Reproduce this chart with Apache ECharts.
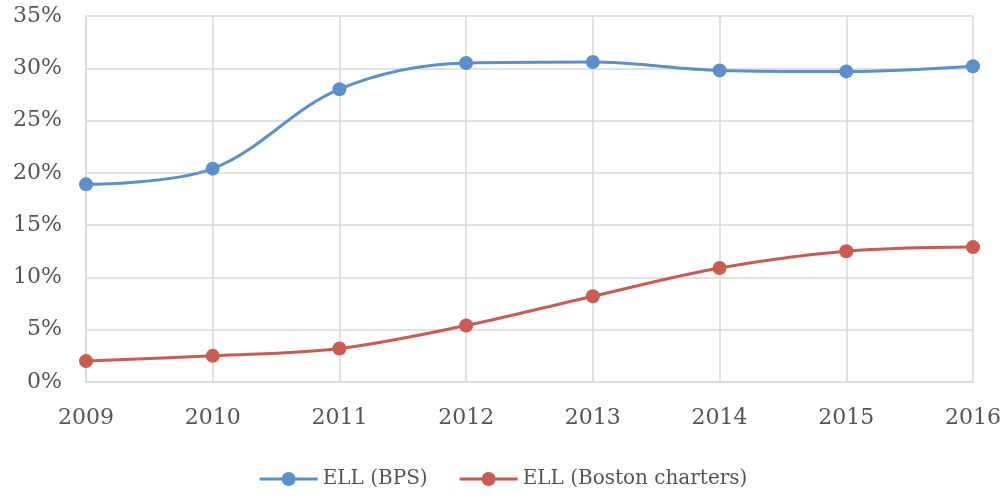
<!DOCTYPE html>
<html>
<head>
<meta charset="utf-8">
<script src="https://cdn.jsdelivr.net/npm/echarts@6/dist/echarts.min.js"></script>
<style>
  html, body { margin: 0; padding: 0; background: #fff; }
  #chart { width: 1007px; height: 499px; }
</style>
</head>
<body>
<div id="chart"></div>
<script>
const years = ['2009', '2010', '2011', '2012', '2013', '2014', '2015', '2016']
const ellBps = [18.9, 20.4, 28.0, 30.5, 30.6, 29.8, 29.7, 30.2]
const ellCharters = [2.0, 2.5, 3.2, 5.4, 8.2, 10.9, 12.5, 12.9]

const font = 'DejaVu Serif'
const textColor = '#555555'
// line with a dot in the middle, like the legend keys of the original
const legendIcon = 'path://M0,5.5 H58 V8.5 H0 Z M29,0 A7,7 0 1 1 29,14 A7,7 0 1 1 29,0 Z'

const chart = echarts.init(document.getElementById('chart'))

function lineSeries(name, data, color) {
  return {
    name: name,
    type: 'line',
    data: data,
    smooth: 0.35,
    symbol: 'circle',
    symbolSize: 14,
    lineStyle: { width: 3, color: color },
    itemStyle: { color: color },
    animation: false
  }
}

chart.setOption({
  grid: { left: 86, right: 34, top: 16, bottom: 117 },
  legend: {
    bottom: 5,
    left: 'center',
    icon: legendIcon,
    itemWidth: 58,
    itemHeight: 14,
    itemGap: 32,
    textStyle: { fontFamily: font, fontSize: 20, color: textColor }
  },
  xAxis: {
    type: 'category',
    data: years,
    boundaryGap: false,
    axisLine: { lineStyle: { color: '#d9d9d9', width: 1.5 } },
    axisTick: { show: false },
    splitLine: { show: true, lineStyle: { color: '#d9d9d9', width: 1.5 } },
    axisLabel: { fontFamily: font, fontSize: 22, color: textColor, margin: 25 }
  },
  yAxis: {
    type: 'value',
    min: 0,
    max: 35,
    interval: 5,
    axisLine: { show: true, lineStyle: { color: '#d9d9d9', width: 1.5 } },
    axisTick: { show: false },
    splitLine: { lineStyle: { color: '#d9d9d9', width: 1.5 } },
    axisLabel: { fontFamily: font, fontSize: 22, color: textColor, margin: 24, formatter: '{value}%' }
  },
  series: [
    lineSeries('ELL (BPS)', ellBps, '#5b90c9'),
    lineSeries('ELL (Boston charters)', ellCharters, '#cb5a50')
  ]
})
</script>
</body>
</html>
